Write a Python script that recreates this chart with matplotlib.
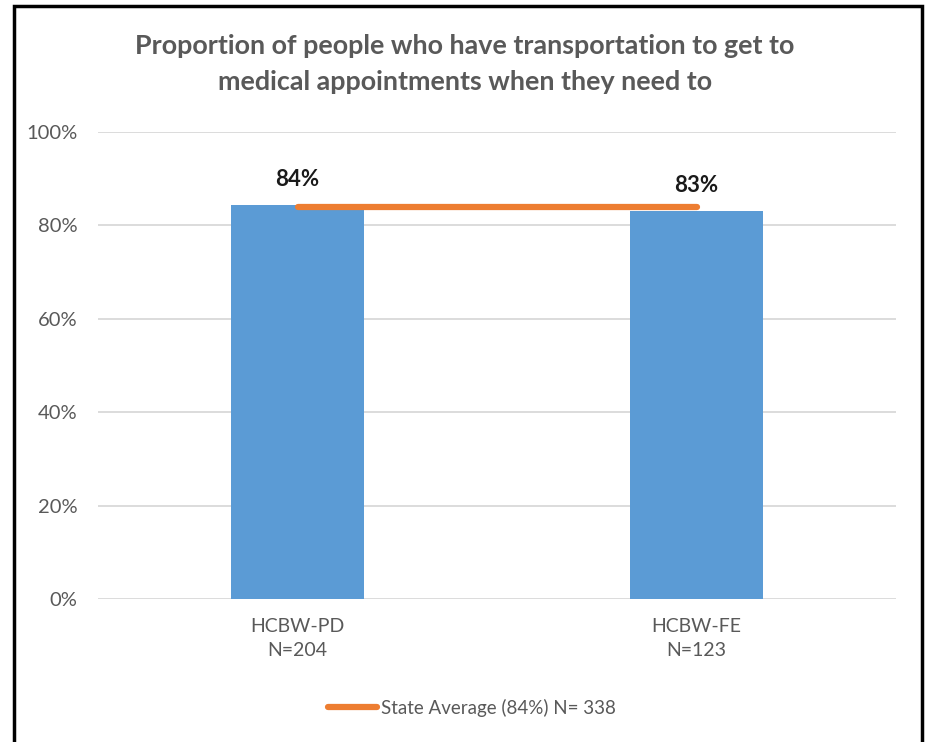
import matplotlib
matplotlib.use("Agg")
import matplotlib.pyplot as plt
from matplotlib.patches import Rectangle
from matplotlib.ticker import FuncFormatter

categories = ["HCBW-PD\nN=204", "HCBW-FE\nN=123"]
values = [84.3, 83.0]
value_labels = ["84%", "83%"]
state_avg = [84, 84]
legend_label = "State Average (84%) N= 338"
title = "Proportion of people who have transportation to get to\nmedical appointments when they need to"
yticks = [0, 20, 40, 60, 80, 100]

W, H = 930, 742
fig = plt.figure(figsize=(W / 100, H / 100), dpi=100)
plt.rcParams['font.family'] = ['Lato', 'DejaVu Sans']

# frame border
fig.patches.append(Rectangle((14 / W, -0.05), (922 - 14) / W, 1.05 - 6 / H,
                             transform=fig.transFigure, fill=False,
                             edgecolor='black', linewidth=2.5))

left, right = 98 / W, 896 / W
bottom, top = 1 - 599 / H, 1 - 132 / H
ax = fig.add_axes([left, bottom, right - left, top - bottom])

x = list(range(len(categories)))
ax.bar(x, values, width=0.335, color='#5B9BD5', zorder=2)
line, = ax.plot(x, state_avg, color='#ED7D31', linewidth=4.5,
                solid_capstyle='round', zorder=3, label=legend_label)
for xi, v, lab in zip(x, values, value_labels):
    ax.text(xi, v + 3.3, lab, ha='center', va='bottom', fontsize=16,
            fontweight='bold', color='#1a1a1a')

ax.set_xlim(-0.5, 1.5)
ax.set_ylim(0, 100)
ax.set_yticks(yticks)
ax.yaxis.set_major_formatter(FuncFormatter(lambda v, p: f"{int(v)}%"))
ax.set_xticks(x)
ax.set_xticklabels(categories, fontsize=14, color='#595959', linespacing=1.45)
ax.tick_params(axis='y', labelsize=14.5, labelcolor='#595959', length=0, pad=15)
ax.tick_params(axis='x', length=0, pad=14)
ax.grid(axis='y', color='#D9D9D9', linewidth=1.3, zorder=0)
ax.set_axisbelow(True)
for s in ax.spines.values():
    s.set_visible(False)

fig.text(0.5, 1 - 64.5 / H, title, ha='center', va='center', fontsize=19.4,
         fontweight='bold', color='#595959', linespacing=1.6)

fig.legend(handles=[line], loc='center', bbox_to_anchor=(472 / W, 1 - 708 / H),
           frameon=False, fontsize=13.5, labelcolor='#595959',
           handlelength=2.6, handletextpad=0.2)

fig.savefig("out.png", dpi=100, facecolor='white')
